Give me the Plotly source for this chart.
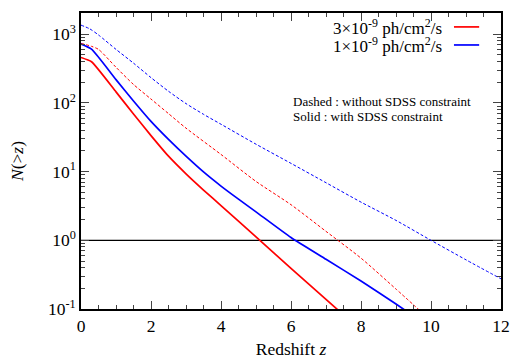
import plotly.graph_objects as go

# Data
z_red_solid = [0, 0.3, 1, 1.5, 2, 2.5, 3, 3.5, 4, 5, 6, 7, 7.4]
n_red_solid = [460, 398, 145, 69, 33.5, 16.8, 9.3, 5.4, 3.2, 1.12, 0.39, 0.138, 0.091]

z_blue_solid = [0, 0.3, 1, 1.5, 2, 2.5, 3, 3.5, 4, 4.5, 5, 6, 7, 8, 9, 9.3]
n_blue_solid = [719, 607, 219, 107, 54, 29.5, 16.8, 9.9, 6.17, 3.98, 2.6, 1.1, 0.53, 0.255, 0.118, 0.093]

z_red_dashed = [0, 0.3, 0.5, 1, 1.5, 2, 2.5, 3, 4, 5, 6, 7, 8, 9, 9.7]
n_red_dashed = [738, 668, 603, 331, 186, 114, 70, 43, 17.8, 7.2, 3.3, 1.35, 0.55, 0.195, 0.093]

z_blue_dashed = [0, 0.25, 0.5, 1, 1.5, 2, 2.5, 3, 3.5, 4, 5, 6, 7, 8, 9, 10, 11, 12]
n_blue_dashed = [1360, 1200, 977, 603, 380, 234, 148, 98, 68.4, 49, 25.1, 13.2, 6.9, 3.6, 1.95, 1.0, 0.52, 0.275]

ref_z = [0, 12]
ref_n = [1, 1]

y_tickvals = [0.1, 1, 10, 100, 1000]
y_ticktext = ["10<sup>-1</sup>", "10<sup>0</sup>", "10<sup>1</sup>", "10<sup>2</sup>", "10<sup>3</sup>"]
x_tickvals = [0, 2, 4, 6, 8, 10, 12]

legend_labels = ["3×10<sup>-9</sup> ph/cm<sup>2</sup>/s", "1×10<sup>-9</sup> ph/cm<sup>2</sup>/s"]
RED = "#ff0000"
BLUE = "#0000ff"
FONT = "Liberation Serif"
axis_font = dict(family=FONT, size=17.5, color="black")

fig = go.Figure()
fig.add_trace(go.Scatter(x=ref_z, y=ref_n, mode="lines", line=dict(color="black", width=1.3), showlegend=False))
fig.add_trace(go.Scatter(x=z_blue_dashed, y=n_blue_dashed, mode="lines",
                         line=dict(color=BLUE, width=1, dash="3px,2px", shape="spline", smoothing=0.7),
                         showlegend=False))
fig.add_trace(go.Scatter(x=z_red_dashed, y=n_red_dashed, mode="lines",
                         line=dict(color=RED, width=1, dash="3px,2px", shape="spline", smoothing=0.7),
                         showlegend=False))
fig.add_trace(go.Scatter(x=z_blue_solid, y=n_blue_solid, mode="lines",
                         line=dict(color=BLUE, width=1.7, shape="spline", smoothing=0.5), showlegend=False))
fig.add_trace(go.Scatter(x=z_red_solid, y=n_red_solid, mode="lines",
                         line=dict(color=RED, width=1.7, shape="spline", smoothing=0.5), showlegend=False))

# Legend (text left of line sample, as in the reference)
for i, (lab, col) in enumerate(zip(legend_labels, [RED, BLUE])):
    ypos = 0.953 - i * 0.061
    fig.add_annotation(x=0.864, y=ypos, xref="paper", yref="paper", text=lab, showarrow=False,
                       xanchor="right", yanchor="middle", font=dict(family=FONT, size=17, color="black"))
    fig.add_shape(type="line", xref="paper", yref="paper", x0=0.888, x1=0.948, y0=ypos, y1=ypos,
                  line=dict(color=col, width=1.7))

fig.add_annotation(x=0.50, y=0.70, xref="paper", yref="paper", text="Dashed : without SDSS constraint",
                   showarrow=False, xanchor="left", yanchor="middle", font=dict(family=FONT, size=13, color="black"))
fig.add_annotation(x=0.50, y=0.65, xref="paper", yref="paper", text="Solid : with SDSS constraint",
                   showarrow=False, xanchor="left", yanchor="middle", font=dict(family=FONT, size=13, color="black"))

fig.update_layout(
    template="none",
    width=511, height=360,
    margin=dict(l=81, r=10, t=13, b=51),
    paper_bgcolor="white", plot_bgcolor="white",
    font=dict(family=FONT, size=17.5, color="black"),
    xaxis=dict(range=[0, 12], tickvals=x_tickvals, ticks="inside", ticklen=8, tickwidth=1.2,
               tickfont=axis_font,
               showline=True, linecolor="black", linewidth=1.5, mirror="ticks", showgrid=False, zeroline=False,
               title=dict(text="Redshift <i>z</i>", font=axis_font, standoff=8),
               minor=dict(dtick=0.5, ticks="inside", ticklen=4, tickwidth=1, showgrid=False)),
    yaxis=dict(type="log", range=[-1, 3.31], tickvals=y_tickvals, ticktext=y_ticktext,
               ticks="inside", ticklen=8, tickwidth=1.2, tickfont=axis_font,
               showline=True, linecolor="black", linewidth=1.5, mirror="ticks", showgrid=False, zeroline=False,
               title=dict(text="<i>N</i>(&gt;<i>z</i>)", font=axis_font, standoff=20),
               minor=dict(dtick="D1", ticks="inside", ticklen=4, tickwidth=1, showgrid=False)),
)

fig.write_html("out.html", config={"displayModeBar": False},
               post_script="document.body.style.margin='0';")
